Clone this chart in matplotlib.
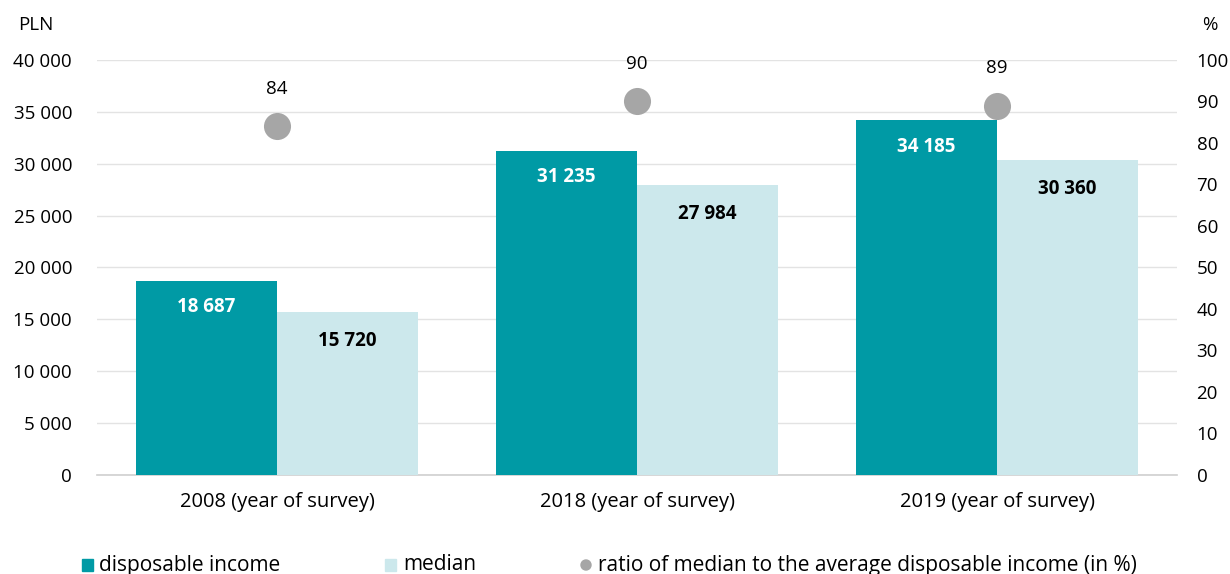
import matplotlib
matplotlib.use("Agg")
import matplotlib.pyplot as plt
from matplotlib import font_manager as fm
import numpy as np

categories = ["2008 (year of survey)", "2018 (year of survey)", "2019 (year of survey)"]
disposable = [18687, 31235, 34185]
median = [15720, 27984, 30360]
ratio = [84, 90, 89]
left_ticks = [0, 5000, 10000, 15000, 20000, 25000, 30000, 35000, 40000]
right_ticks = [0, 10, 20, 30, 40, 50, 60, 70, 80, 90, 100]

def fmt(v):
    return f"{v:,}".replace(",", " ")

names = {f.name for f in fm.fontManager.ttflist}
main_font = "Open Sans" if "Open Sans" in names else "DejaVu Sans"
plt.rcParams["font.family"] = [main_font, "DejaVu Sans"]

TEAL = "#009AA5"
LIGHT = "#CCE8EC"
GRAY = "#A6A6A6"
FS = 13.5

fig = plt.figure(figsize=(12.3, 5.74), dpi=100)
ax = fig.add_axes([0.0789, 0.1725, 0.957 - 0.0789, 0.8955 - 0.1725])
ax2 = ax.twinx()

x = np.arange(len(categories))
w = 0.392
ax.bar(x - w / 2, disposable, width=w, color=TEAL, zorder=3)
ax.bar(x + w / 2, median, width=w, color=LIGHT, zorder=3)

for xi, v in zip(x, disposable):
    ax.annotate(fmt(v), (xi - w / 2, v), xytext=(0, -19), textcoords="offset points",
                ha="center", va="center", color="white", fontsize=FS, fontweight="bold", zorder=5)
for xi, v in zip(x, median):
    ax.annotate(fmt(v), (xi + w / 2, v), xytext=(0, -21), textcoords="offset points",
                ha="center", va="center", color="black", fontsize=FS, fontweight="bold", zorder=5)

ax.set_xlim(-0.5, 2.5)
ax.set_ylim(0, 40000)
ax.set_yticks(left_ticks)
ax.set_yticklabels([fmt(t) for t in left_ticks], fontsize=FS)
ax.set_xticks(x)
ax.set_xticklabels(categories, fontsize=14.5)
ax.tick_params(axis="x", length=0, pad=12)
ax.tick_params(axis="y", length=0, pad=18)
ax.grid(axis="y", color="#E3E3E3", linewidth=1, zorder=0)
ax.set_axisbelow(True)
for s in ["top", "right", "left"]:
    ax.spines[s].set_visible(False)
ax.spines["bottom"].set_color("#CFCFCF")
ax.spines["bottom"].set_linewidth(1.2)

ax2.set_ylim(0, 100)
ax2.set_yticks(right_ticks)
ax2.set_yticklabels([str(t) for t in right_ticks], fontsize=FS)
ax2.tick_params(axis="y", length=0, pad=14)
for s in ax2.spines.values():
    s.set_visible(False)
ax2.scatter(x, ratio, s=380, color=GRAY, zorder=6, linewidths=0)
for xi, v in zip(x, ratio):
    ax2.annotate(str(v), (xi, v), xytext=(0, 27), textcoords="offset points",
                 ha="center", va="center", fontsize=FS, color="black")

fig.text(18 / 1230, 1 - 25 / 574, "PLN", fontsize=FS, ha="left", va="center")
fig.text(1210 / 1230, 1 - 25 / 574, "%", fontsize=FS, ha="center", va="center")

# legend
LFS = 15
ly = 1 - 565 / 574
fig.patches.append(plt.Rectangle((82 / 1230, ly - 6 / 574), 11 / 1230, 12 / 574,
                                 transform=fig.transFigure, color=TEAL))
fig.text(99 / 1230, ly, "disposable income", fontsize=LFS, ha="left", va="center")
fig.patches.append(plt.Rectangle((385 / 1230, ly - 6 / 574), 11 / 1230, 12 / 574,
                                 transform=fig.transFigure, color=LIGHT))
fig.text(403 / 1230, ly, "median", fontsize=LFS, ha="left", va="center")
fig.patches.append(matplotlib.patches.Ellipse((586 / 1230, ly), 10 / 1230, 10 / 574,
                                              transform=fig.transFigure, color=GRAY))
fig.text(598 / 1230, ly, "ratio of median to the average disposable income (in %)", fontsize=LFS,
         ha="left", va="center")

fig.savefig("out.png", dpi=100)
